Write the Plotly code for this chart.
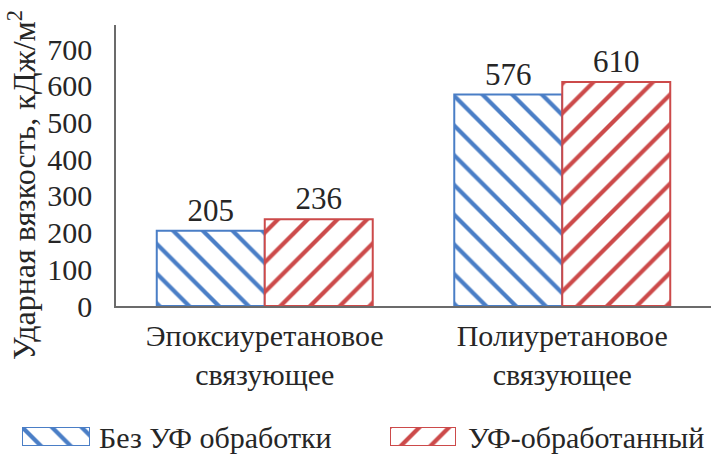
import plotly.graph_objects as go

# Data
categories = ["Эпоксиуретановое<br>связующее", "Полиуретановое<br>связующее"]
series_names = ["Без УФ обработки", "УФ-обработанный"]
untreated = [205, 576]
uv_treated = [236, 610]
y_ticks = [0, 100, 200, 300, 400, 500, 600, 700]
y_title = "Ударная вязкость, кДж/м<sup>2</sup>"

# Style
W, H = 725, 455
BLUE = "#4a7ec6"
RED = "#cc4a4a"
TEXT = "#262626"
AXIS = "#6b6b6b"
FONT = "Liberation Serif, Times New Roman, Liberation Sans, sans-serif"
FS = 30

PLOT_L, PLOT_R, PLOT_T, PLOT_B = 116, 711, 25, 306


def fx(p):
    return p / W


def fy(p):
    return 1 - p / H


def hatched(color, shape):
    return dict(
        color="white",
        line=dict(color=color, width=2),
        pattern=dict(shape=shape, fgcolor=color, bgcolor="white",
                     fgopacity=1, size=21, solidity=0.2),
    )


fig = go.Figure()

for vals, name, color, shape in [
    (untreated, series_names[0], BLUE, "\\"),
    (uv_treated, series_names[1], RED, "/"),
]:
    fig.add_trace(go.Bar(
        x=categories, y=vals, name=name,
        marker=hatched(color, shape),
        text=[str(v) for v in vals], textposition="outside",
        textfont=dict(family=FONT, size=31, color=TEXT),
        cliponaxis=False, showlegend=False,
    ))

# Legend swatches, each on its own small axis pair
swatches = [
    ("x2", "y2", BLUE, "\\", (22, 90)),
    ("x3", "y3", RED, "/", (390, 456)),
]
for xa, ya, color, shape, _ in swatches:
    fig.add_trace(go.Bar(
        x=[0], y=[1], width=[1], xaxis=xa, yaxis=ya,
        marker=hatched(color, shape), showlegend=False, hoverinfo="skip",
    ))

hidden = dict(visible=False, fixedrange=True)
sw_dom_y = [fy(446), fy(427)]
fig.update_layout(
    xaxis2=dict(domain=[fx(swatches[0][4][0]), fx(swatches[0][4][1])],
                range=[-0.5, 0.5], anchor="y2", **hidden),
    yaxis2=dict(domain=sw_dom_y, range=[0, 1], anchor="x2", **hidden),
    xaxis3=dict(domain=[fx(swatches[1][4][0]), fx(swatches[1][4][1])],
                range=[-0.5, 0.5], anchor="y3", **hidden),
    yaxis3=dict(domain=sw_dom_y, range=[0, 1], anchor="x3", **hidden),
)

# Legend labels
for txt, x0 in [(series_names[0], 97), (series_names[1], 466)]:
    fig.add_annotation(
        text=txt, x=fx(x0), y=fy(437), xref="paper", yref="paper",
        xanchor="left", yanchor="middle", showarrow=False,
        font=dict(family=FONT, size=FS, color=TEXT),
    )

# Y-axis title
fig.add_annotation(
    text=y_title, x=fx(22), y=fy(185), xref="paper", yref="paper",
    xanchor="center", yanchor="middle", textangle=-90, showarrow=False,
    font=dict(family=FONT, size=32, color=TEXT),
)

y_top = (PLOT_B - PLOT_T) / ((PLOT_B - 49) / 700)

fig.update_layout(
    width=W, height=H,
    margin=dict(l=0, r=0, t=0, b=0),
    paper_bgcolor="white", plot_bgcolor="white",
    barmode="group", bargap=0.274, bargroupgap=0,
    font=dict(family=FONT, size=FS, color=TEXT),
    xaxis=dict(
        domain=[fx(PLOT_L), fx(PLOT_R)],
        showline=True, linecolor=AXIS, linewidth=1.5,
        ticks="", showgrid=False, automargin=False,
        ticklabelstandoff=2,
        tickfont=dict(family=FONT, size=FS, color=TEXT),
    ),
    yaxis=dict(
        domain=[fy(PLOT_B), fy(PLOT_T)],
        range=[0, y_top], tickvals=y_ticks,
        showline=True, linecolor=AXIS, linewidth=1.5,
        ticks="", showgrid=False, zeroline=False, automargin=False,
        ticklabelstandoff=16,
        tickfont=dict(family=FONT, size=FS, color=TEXT),
    ),
)

fig.write_html("out.html")
